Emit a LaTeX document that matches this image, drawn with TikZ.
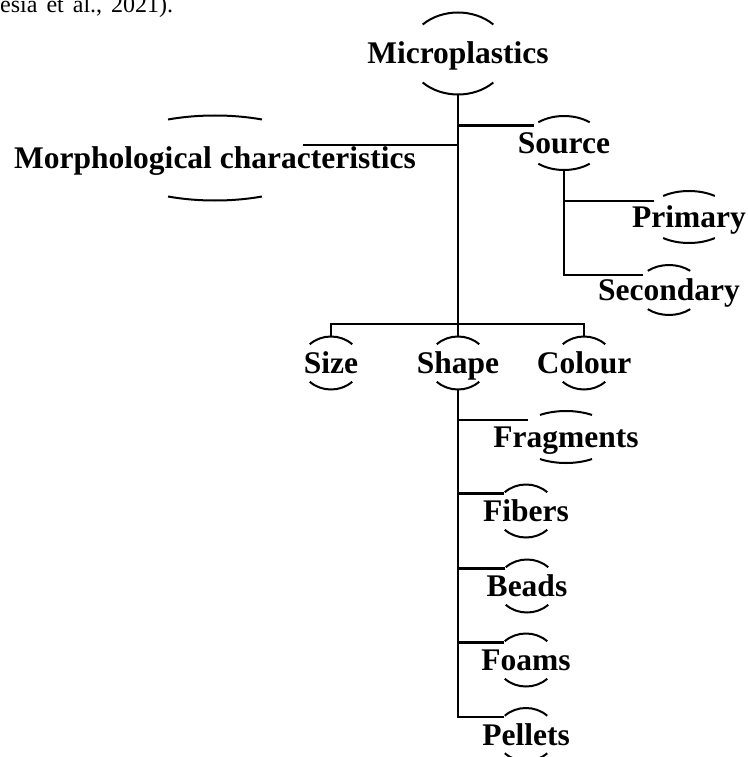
\documentclass[tikz,border=0pt]{standalone}
\usepackage{fontspec}
\setmainfont{Liberation Serif}
\usetikzlibrary{shapes.geometric}
\tikzset{
  bub/.style 2 args={ellipse, inner sep=0pt, outer sep=0pt, minimum width=2*#1pt, minimum height=2*#2pt},
  lbl/.style={inner sep=0pt, text height=21pt, text depth=0pt, font=\bfseries\fontsize{31.5}{38}\selectfont},
  rim/.style={line width=2pt},
  link/.style={line width=2.4pt},
}
\newcommand{\Bubble}[7]{%
  \node[bub={#4}{#5}] (#1) at (#2,#3) {};
  \node[lbl] (#1-text) at (#1.center) {#7};
  \draw[rim] ([shift={(#6:#4pt and #5pt)}]#1.center) arc[start angle=#6, end angle=180-#6, x radius=#4pt, y radius=#5pt];
  \draw[rim] ([shift={(-#6:#4pt and #5pt)}]#1.center) arc[start angle=-#6, end angle=#6-180, x radius=#4pt, y radius=#5pt];
}
\begin{document}
\begin{tikzpicture}[x=1pt, y=-1pt]
\useasboundingbox (0,0) rectangle (747,757);
\node[anchor=base west, inner sep=0pt, font=\fontsize{24}{29}\selectfont] (cite) at (0,13) {\spaceskip=9pt esia et al., 2021).};
\Bubble{mic}{458}{53.5}{50}{41}{45}{Microplastics}
\Bubble{morph}{215}{158}{111}{42.5}{65}{Morphological characteristics}
\Bubble{src}{564}{143}{40}{27}{50}{Source}
\Bubble{pri}{689}{217}{44}{26}{54}{Primary}
\Bubble{sec}{669}{290}{33}{25}{50}{Secondary}
\Bubble{size}{331}{363}{30}{26.5}{45}{Size}
\Bubble{shape}{458}{363}{30}{26.5}{45}{Shape}
\Bubble{col}{584}{363}{30}{26.5}{45}{Colour}
\Bubble{frag}{566}{437}{49}{26}{58}{Fragments}
\Bubble{fib}{526}{511}{30}{26.5}{45}{Fibers}
\Bubble{bead}{527}{586}{30}{26.5}{45}{Beads}
\Bubble{foam}{526}{660}{30}{26.5}{45}{Foams}
\Bubble{pel}{526}{734.5}{30}{26.5}{45}{Pellets}
\coordinate (bar) at (458,324);
\draw[link] (mic.south) -- (shape.north);
\draw[link] (size.north) |- (bar) -| (col.north);
\draw[link] (mic.south) |- ([xshift=88pt, yshift=13pt]morph.center);
\draw[link] (mic.south) |- (src.150);
\draw[link] (src.south) |- (pri.155);
\draw[link] (src.south) |- (sec.150);
\draw[link] (shape.south) |- (frag.156);
\foreach \n in {fib, bead, foam, pel}
  \draw[link] (shape.south) |- (\n.142);
\end{tikzpicture}
\end{document}
